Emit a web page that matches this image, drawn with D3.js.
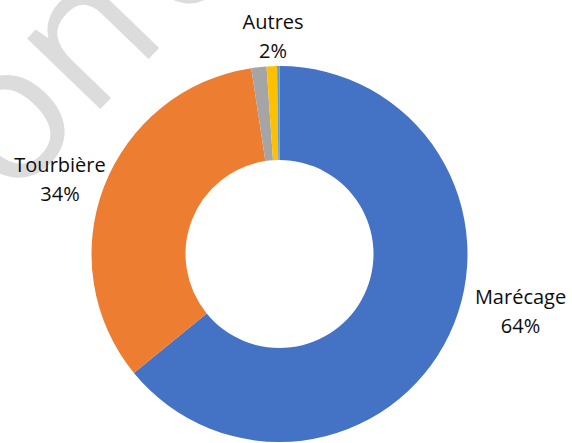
<!DOCTYPE html>
<html>
<head>
<meta charset="utf-8">
<title>Répartition</title>
<script src="https://cdn.jsdelivr.net/npm/d3@7"></script>
<style>
  body { margin: 0; background: #fff; }
  svg { display: block; }
</style>
</head>
<body>
<div id="chart"></div>
<script>
// donnees (parts en %)
const categories = ["Marécage", "Tourbière", "Autre 1", "Autre 2", "Autre 3"]
const values = [64.1, 33.5, 1.3, 0.9, 0.2]
const colors = ["#4472C4", "#ED7D31", "#A5A5A5", "#FFC000", "#5B9BD5"]

// etiquettes affichees (index de la part, nom, pourcentage)
const labelIndex = [0, 1, 3]
const labelNames = ["Marécage", "Tourbière", "Autres"]
const labelPcts = ["64%", "34%", "2%"]

// mise en page des etiquettes : decalage d'angle (deg) et rayon
const labelShift = [-10.4, -3.9, 0.6]
const labelRadius = [249.5, 229.7, 211.3]

const width = 572, height = 443
const cx = 279.5, cy = 254
const outerR = 188, innerR = 94

const svg = d3.select("#chart").append("svg")
    .attr("width", width)
    .attr("height", height)

// filigrane en fond
const wm = svg.append("g")
    .attr("fill", "#dcdcdc")
    .style("font-family", "'Open Sans', sans-serif")
    .style("font-weight", 400)
    .style("font-size", "190px")
wm.append("text")
    .attr("text-anchor", "end")
    .attr("transform", "translate(170,37) rotate(-46)")
    .text("Version")
wm.append("text")
    .attr("text-anchor", "start")
    .attr("x", 14)
    .attr("transform", "translate(170,37) rotate(-46)")
    .text(" de travail")

const pie = d3.pie().sort(null).value(d => d)
const arcs = pie(values)

const arc = d3.arc().innerRadius(innerR).outerRadius(outerR)

const g = svg.append("g").attr("transform", `translate(${cx},${cy})`)

g.selectAll("path")
    .data(arcs)
    .enter()
    .append("path")
    .attr("d", arc)
    .attr("fill", (d, i) => colors[i])

// etiquettes
const lab = g.selectAll("g.lab")
    .data(labelIndex)
    .enter()
    .append("g")
    .attr("class", "lab")
    .attr("transform", function (idx, k) {
        const a = arcs[idx]
        const mid = (a.startAngle + a.endAngle) / 2 + labelShift[k] * Math.PI / 180
        const x = Math.sin(mid) * labelRadius[k]
        const y = -Math.cos(mid) * labelRadius[k]
        return `translate(${x},${y})`
    })
    .style("font-family", "'Open Sans', sans-serif")
    .style("font-size", "20px")
    .attr("fill", "#0d0d0d")
    .attr("text-anchor", "middle")

lab.append("text")
    .attr("y", -14.3)
    .text((d, k) => labelNames[k])
lab.append("text")
    .attr("y", 14.7)
    .text((d, k) => labelPcts[k])
</script>
</body>
</html>
